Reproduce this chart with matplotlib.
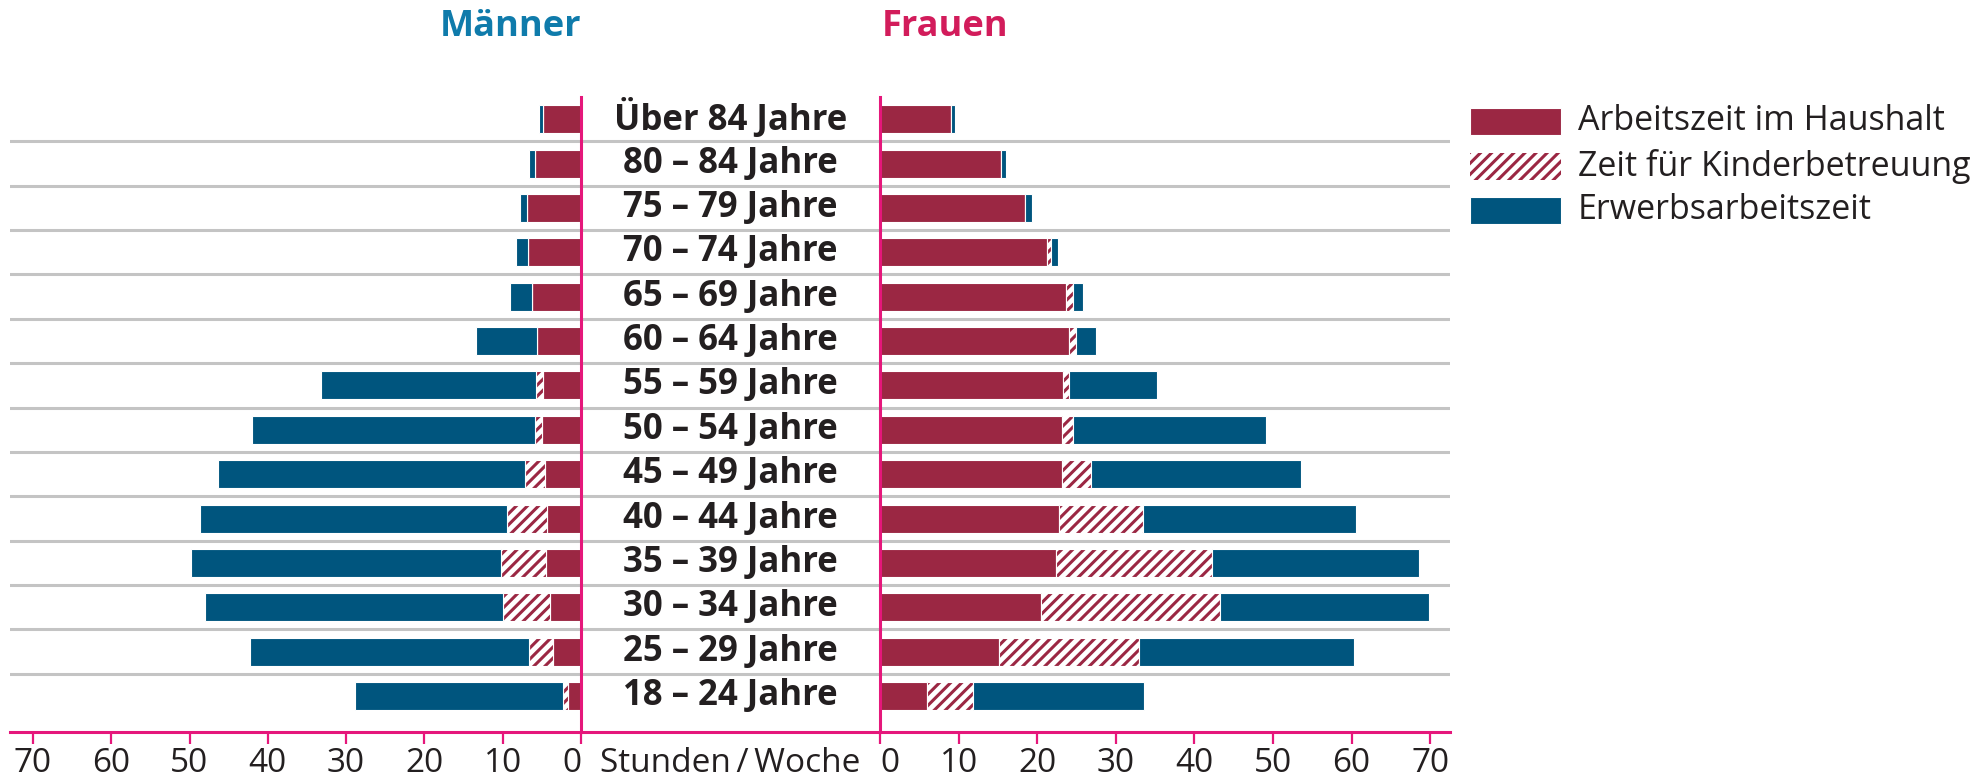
import matplotlib.pyplot as plt
from matplotlib.patches import Rectangle
from matplotlib.transforms import blended_transform_factory
import numpy as np

plt.rcParams['font.family'] = ['Open Sans', 'DejaVu Sans']
plt.rcParams['hatch.linewidth'] = 2.2

# ---------------- data (hours per week), top row first ----------------
age_groups = ['Über 84 Jahre', '80 – 84 Jahre', '75 – 79 Jahre', '70 – 74 Jahre',
              '65 – 69 Jahre', '60 – 64 Jahre', '55 – 59 Jahre', '50 – 54 Jahre',
              '45 – 49 Jahre', '40 – 44 Jahre', '35 – 39 Jahre', '30 – 34 Jahre',
              '25 – 29 Jahre', '18 – 24 Jahre']

men_household = [4.9, 5.9, 6.9, 6.8, 6.3, 5.6, 4.9, 5.0, 4.6, 4.3, 4.5, 4.0, 3.6, 1.7]
men_childcare = [0.0, 0.0, 0.0, 0.0, 0.0, 0.0, 0.8, 0.9, 2.5, 5.2, 5.7, 5.9, 3.0, 0.6]
men_paid      = [0.5, 0.7, 0.9, 1.5, 2.8, 7.8, 27.5, 36.1, 39.2, 39.1, 39.6, 38.1, 35.7, 26.6]

women_household = [9.0, 15.4, 18.5, 21.3, 23.7, 24.0, 23.3, 23.1, 23.1, 22.8, 22.4, 20.5, 15.1, 6.0]
women_childcare = [0.0, 0.0, 0.0, 0.5, 0.9, 0.9, 0.8, 1.4, 3.8, 10.7, 19.8, 22.7, 17.8, 5.8]
women_paid      = [0.5, 0.6, 0.8, 0.8, 1.2, 2.6, 11.2, 24.6, 26.7, 27.1, 26.4, 26.6, 27.4, 21.8]

ticks = [0, 10, 20, 30, 40, 50, 60, 70]
legend_labels = ['Arbeitszeit im Haushalt', 'Zeit für Kinderbetreuung', 'Erwerbsarbeitszeit']

# ---------------- colours ----------------
RED = '#9b2743'
BLUE = '#00557e'
PINK = '#e5177b'
GRID = '#c4c4c4'
TXT = '#231f20'
C_MEN = '#0f7bab'
C_WOMEN = '#d21c5b'

W, H = 1982, 780
fig = plt.figure(figsize=(W / 100, H / 100), dpi=100)

def fx(p):
    return p / W

def fy(p):
    return 1 - p / H

bottom, top = fy(732), fy(97)
n = len(age_groups)
ypos = np.arange(n)[::-1]          # top row = n-1
ylim = (-0.81, n - 0.5)
bh = 0.63

# background axes: grey separators and pink baseline
axBG = fig.add_axes([fx(10), bottom, fx(1450) - fx(10), top - bottom], zorder=0)
axBG.set_xlim(0, 1)
axBG.set_ylim(*ylim)
for k in range(n - 1):
    axBG.axhline(k + 0.5, color=GRID, lw=2.2)
axBG.axhline(ylim[0], color=PINK, lw=2.2, clip_on=False)
axBG.axis('off')

axL = fig.add_axes([fx(10), bottom, fx(581) - fx(10), top - bottom], zorder=2)
axR = fig.add_axes([fx(880), bottom, fx(1450) - fx(880), top - bottom], zorder=2)
axL.set_xlim(571 / 7.83, 0)
axR.set_xlim(0, 570 / 7.86)

def stack(ax, hh, cc, pp):
    hh, cc, pp = map(np.array, (hh, cc, pp))
    ax.barh(ypos, hh, height=bh, color=RED, edgecolor='white', lw=0.8)
    ax.barh(ypos, cc, left=hh, height=bh, color='white', edgecolor=RED, lw=0, hatch='///')
    ax.barh(ypos, cc, left=hh, height=bh, color='none', edgecolor='white', lw=0.8)
    ax.barh(ypos, pp, left=hh + cc, height=bh, color=BLUE, edgecolor='white', lw=0.8)

stack(axL, men_household, men_childcare, men_paid)
stack(axR, women_household, women_childcare, women_paid)

for ax, side in ((axL, 'right'), (axR, 'left')):
    ax.set_ylim(*ylim)
    ax.set_facecolor('none')
    for s in ax.spines.values():
        s.set_visible(False)
    ax.spines[side].set_visible(True)
    ax.spines[side].set_color(PINK)
    ax.spines[side].set_linewidth(2.2)
    ax.set_yticks([])
    ax.set_xticks(ticks)
    ax.set_xticklabels([str(t) for t in ticks])
    ax.tick_params(axis='x', direction='out', length=8.5, width=1.6, color=PINK,
                   labelsize=24, labelcolor=TXT, pad=2)

# "0" labels pushed away from the centre text
for ax, ha in ((axL, 'right'), (axR, 'left')):
    for t in ax.xaxis.get_major_ticks():
        if t.get_loc() == 0:
            t.label1.set_horizontalalignment(ha)

# row labels in the centre
tr = blended_transform_factory(fig.transFigure, axR.transData)
for y, lab in zip(ypos, age_groups):
    fig.text(fx(730.5), y, lab, transform=tr, ha='center', va='center',
             fontsize=25, fontweight='bold', color=TXT)

fig.text(fx(730.5), fy(763), 'Stunden\u2009/\u2009Woche', ha='center', va='center',
         fontsize=24, color=TXT)

# titles
fig.text(fx(581), fy(27), 'Männer', ha='right', va='center', fontsize=26,
         fontweight='bold', color=C_MEN)
fig.text(fx(882), fy(27), 'Frauen', ha='left', va='center', fontsize=26,
         fontweight='bold', color=C_WOMEN)

# legend
leg_y = [121.5, 166, 210]
styles = [dict(facecolor=RED, edgecolor='white', lw=0.8),
          dict(facecolor='white', edgecolor=RED, lw=0, hatch='///'),
          dict(facecolor=BLUE, edgecolor='white', lw=0.8)]
for yc, lab, st in zip(leg_y, legend_labels, styles):
    fig.add_artist(Rectangle((fx(1470), fy(yc + 13.5)), 91 / W, 27 / H,
                             transform=fig.transFigure, **st))
    fig.text(fx(1578), fy(yc), lab, ha='left', va='center', fontsize=24.5, color=TXT)

fig.savefig('out.png', dpi=100)
